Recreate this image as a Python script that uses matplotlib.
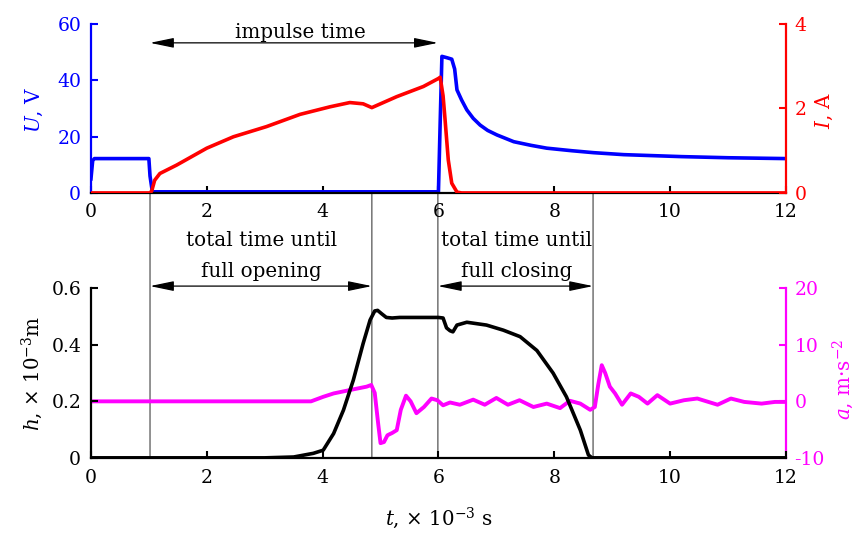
import matplotlib
matplotlib.use("Agg")
import matplotlib.pyplot as plt
from matplotlib.patches import ConnectionPatch

plt.rcParams['font.family'] = ['DejaVu Serif']
plt.rcParams['mathtext.fontset'] = 'dejavuserif'
plt.rcParams['axes.unicode_minus'] = False
FS = 13.5
FT = 14.3

# ---------------- data ----------------
t_U = [0, 0.03, 0.06, 1.0, 1.02, 1.06, 6.0, 6.03, 6.06, 6.15, 6.23, 6.28, 6.32, 6.4, 6.49,
       6.6, 6.72, 6.85, 7.01, 7.3, 7.6, 7.87, 8.3, 8.68, 9.2, 10.2, 11.0, 12.0]
U = [5, 11.5, 12.2, 12.2, 6, 0.4, 0.4, 25, 48.5, 48, 47.5, 44, 36.6, 33, 29.5,
     26.5, 24.1, 22.2, 20.6, 18.2, 16.9, 15.9, 15.0, 14.3, 13.6, 12.9, 12.5, 12.2]

t_I = [0, 1.02, 1.05, 1.1, 1.19, 1.48, 2.0, 2.46, 3.03, 3.61, 4.13, 4.47, 4.7, 4.85, 5.28,
       5.74, 6.0, 6.03, 6.08, 6.11, 6.17, 6.23, 6.32, 6.4, 12.0]
I = [0, 0, 0.05, 0.3, 0.46, 0.66, 1.06, 1.33, 1.57, 1.86, 2.04, 2.14, 2.11, 2.02, 2.28,
     2.52, 2.71, 2.74, 2.3, 1.81, 0.78, 0.23, 0.02, 0, 0]

t_h = [0, 3.0, 3.5, 3.84, 4.01, 4.19, 4.36, 4.53, 4.70, 4.82, 4.9, 4.95, 5.02, 5.1, 5.2, 5.33,
       6.0, 6.08, 6.14, 6.2, 6.25, 6.32, 6.49, 6.83, 7.12, 7.41, 7.7, 7.98, 8.21, 8.45, 8.59,
       8.65, 12.0]
h = [0, 0, 0.003, 0.016, 0.027, 0.086, 0.169, 0.275, 0.405, 0.488, 0.52, 0.522, 0.51, 0.497,
     0.495, 0.497, 0.497, 0.495, 0.46, 0.45, 0.446, 0.47, 0.48, 0.47, 0.452, 0.429, 0.38,
     0.30, 0.216, 0.098, 0.01, 0, 0]

t_a = [0, 3.8, 4.01, 4.19, 4.47, 4.76, 4.84, 4.9, 4.96, 5.0, 5.06, 5.12, 5.2, 5.28, 5.35,
       5.44, 5.52, 5.62, 5.75, 5.88, 5.98, 6.08, 6.2, 6.37, 6.6, 6.8, 7.0, 7.2, 7.4, 7.64,
       7.87, 8.1, 8.27, 8.45, 8.62, 8.7, 8.76, 8.82, 8.88, 8.96, 9.05, 9.17, 9.32, 9.46,
       9.61, 9.78, 10.0, 10.24, 10.47, 10.82, 11.05, 11.28, 11.58, 11.81, 12.0]
a = [0, 0, 0.8, 1.4, 2.0, 2.6, 2.9, 1.5, -4, -7.4, -7.2, -6.0, -5.6, -5.1, -1.5,
     1.0, 0, -2.1, -1.0, 0.5, 0.2, -0.7, -0.2, -0.6, 0.3, -0.6, 0.6, -0.6, 0.2, -1.0,
     -0.4, -1.2, 0.1, -0.4, -1.5, -1.0, 3, 6.4, 5, 2.6, 1.4, -0.6, 1.4, 0.8,
     -0.4, 1.1, -0.4, 0.2, 0.5, -0.6, 0.5, -0.1, -0.4, -0.1, -0.1]

x_ticks = [0, 2, 4, 6, 8, 10, 12]
U_ticks = [0, 20, 40, 60]
I_ticks = [0, 2, 4]
h_ticks = [0, 0.2, 0.4, 0.6]
h_ticklabels = ['0', '0.2', '0.4', '0.6']
a_ticks = [-10, 0, 10, 20]

t_start, t_open, t_stop, t_close = 1.02, 4.85, 5.99, 8.67

BLUE = '#0000ff'
RED = '#ff0000'
MAG = '#ff00ff'
GRAY = '#666666'

fig = plt.figure(figsize=(8.58, 5.33), dpi=100)
ax1 = fig.add_axes([0.106, 0.638, 0.810, 0.317])
ax1r = ax1.twinx()
ax2 = fig.add_axes([0.106, 0.141, 0.810, 0.318])
ax2r = ax2.twinx()


def center_label(lbl):
    lbl.set_horizontalalignment('center')
    lbl.set_verticalalignment('center')


# ---------------- top panel ----------------
ax1.plot(t_U, U, color=BLUE, lw=2.6, solid_joinstyle='round')
ax1r.plot(t_I, I, color=RED, lw=2.6, solid_joinstyle='round')
ax1.set_xlim(0, 12)
ax1.set_ylim(0, 60)
ax1r.set_ylim(0, 4)
ax1.set_xticks(x_ticks)
ax1.set_yticks(U_ticks)
ax1r.set_yticks(I_ticks)

for s in ['top', 'right']:
    ax1.spines[s].set_visible(False)
for s in ['top', 'left', 'bottom']:
    ax1r.spines[s].set_visible(False)
ax1.spines['left'].set_color(BLUE)
ax1.spines['left'].set_linewidth(1.6)
ax1.spines['bottom'].set_linewidth(1.6)
ax1r.spines['right'].set_color(RED)
ax1r.spines['right'].set_linewidth(1.6)
ax1.tick_params(axis='x', direction='in', length=5, width=1.5, labelsize=FS, pad=7)
ax1.tick_params(axis='y', direction='in', length=5, width=1.5, colors=BLUE, labelsize=FS, pad=7)
ax1r.tick_params(axis='y', direction='in', length=5, width=1.5, colors=RED, labelsize=FS, pad=6)
ax1.set_ylabel(r'$U$, V', color=BLUE, fontsize=FT)
ax1.yaxis.set_label_coords(-0.081, 0.49)
center_label(ax1.yaxis.label)
ax1r.set_ylabel(r'$I$, A', color=RED, fontsize=FT, rotation=90)
ax1r.yaxis.set_label_coords(1.056, 0.49)
center_label(ax1r.yaxis.label)

# ---------------- bottom panel ----------------
ax2r.plot(t_a, a, color=MAG, lw=2.8, solid_joinstyle='round')
ax2.plot(t_h, h, color='black', lw=2.6, solid_joinstyle='round')
ax2.set_zorder(ax2r.get_zorder() + 1)
ax2.patch.set_visible(False)
ax2.set_xlim(0, 12)
ax2.set_ylim(0, 0.6)
ax2r.set_ylim(-10, 20)
ax2.set_xticks(x_ticks)
ax2.set_yticks(h_ticks)
ax2.set_yticklabels(h_ticklabels)
ax2r.set_yticks(a_ticks)

for s in ['top', 'right']:
    ax2.spines[s].set_visible(False)
for s in ['top', 'left', 'bottom']:
    ax2r.spines[s].set_visible(False)
ax2.spines['left'].set_linewidth(1.6)
ax2.spines['bottom'].set_linewidth(1.6)
ax2r.spines['right'].set_color(MAG)
ax2r.spines['right'].set_linewidth(1.6)
ax2.tick_params(axis='x', direction='in', length=5, width=1.5, labelsize=FS, pad=8)
ax2.tick_params(axis='y', direction='in', length=5, width=1.5, labelsize=FS, pad=7)
ax2r.tick_params(axis='y', direction='in', length=5, width=1.5, colors=MAG, labelsize=FS, pad=6)
ax2.set_ylabel(r'$h$, × 10$^{\mathregular{-3}}$m', fontsize=FT)
ax2.yaxis.set_label_coords(-0.085, 0.5)
center_label(ax2.yaxis.label)
ax2r.set_ylabel(r'$a$, m·s$^{\mathregular{-2}}$', color=MAG, fontsize=FT, rotation=90)
ax2r.yaxis.set_label_coords(1.083, 0.46)
center_label(ax2r.yaxis.label)
ax2.set_xlabel(r'$t$, × 10$^{\mathregular{-3}}$ s', fontsize=FT)
ax2.xaxis.set_label_coords(0.5, -0.355)
center_label(ax2.xaxis.label)

# ---------------- guide lines ----------------
for (tt, ytop, tr) in [(t_start, 58.9, ax1.transData), (t_stop, 58.9, ax1.transData),
                       (t_open, 2.02, ax1r.transData), (t_close, 14.5, ax1.transData)]:
    cp = ConnectionPatch(xyA=(tt, ytop), coordsA=tr, xyB=(tt, 0), coordsB=ax2.transData,
                         color=GRAY, lw=1.0, zorder=0)
    fig.add_artist(cp)

arrow_kw = dict(arrowstyle='<|-|>,head_length=1.45,head_width=0.3', color='black', lw=0.9,
                shrinkA=0, shrinkB=0)
ax1.annotate('', xy=(t_start, 53.3), xytext=(t_stop, 53.3), arrowprops=arrow_kw,
             annotation_clip=False)
ax1.text(3.61, 57.1, 'impulse time', ha='center', va='center', fontsize=FT)

ax2.annotate('', xy=(t_start, 0.608), xytext=(t_open, 0.608), arrowprops=arrow_kw,
             annotation_clip=False)
ax2.annotate('', xy=(t_stop, 0.608), xytext=(t_close, 0.608), arrowprops=arrow_kw,
             annotation_clip=False)
ax2.text(2.95, 0.771, 'total time until', ha='center', va='center', fontsize=FT, clip_on=False)
ax2.text(2.95, 0.658, 'full opening', ha='center', va='center', fontsize=FT, clip_on=False)
ax2.text(7.35, 0.771, 'total time until', ha='center', va='center', fontsize=FT, clip_on=False)
ax2.text(7.35, 0.658, 'full closing', ha='center', va='center', fontsize=FT, clip_on=False)

fig.savefig('out.png', dpi=100)
